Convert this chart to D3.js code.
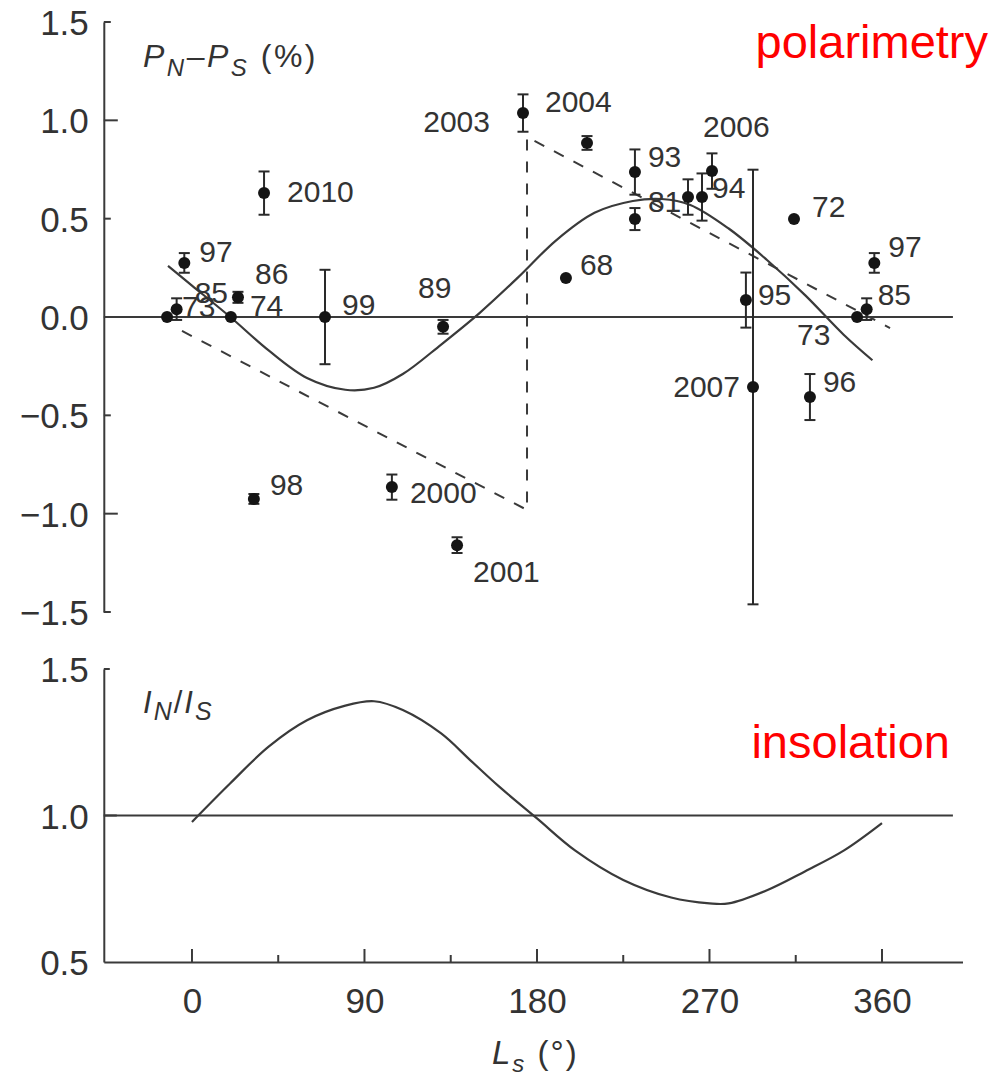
<!DOCTYPE html>
<html>
<head>
<meta charset="utf-8">
<script src="https://cdn.jsdelivr.net/npm/d3@7"></script>
<style>
  html, body { margin: 0; padding: 0; background: #fff; }
  svg { display: block; }
  text { font-family: "Liberation Sans", Arial, Helvetica, sans-serif; }
</style>
</head>
<body>
<svg id="chart" width="992" height="1077"></svg>
<script>
// ---- Polarimetry: hemispheric difference PN−PS (%) per apparition ----
const obsLabel = ["73", "85", "97", "86", "74", "2010", "98", "99", "2000", "89", "2001",
                  "2003", "2004", "68", "93", "81", "", "94", "2006", "95", "2007", "72", "96"];
const obsLs    = [347, 352, 356, 24, 20.3, 37.6, 32.3, 69.4, 104.3, 131, 138.3,
                  172.7, 206.1, 195.1, 231.1, 231.1, 258.8, 266.1, 271.3, 289, 292.7, 314.1, 322.4];
const obsValue = [0, 0.04, 0.275, 0.10, 0, 0.63, -0.925, 0, -0.865, -0.05, -1.16,
                  1.037, 0.885, 0.198, 0.737, 0.498, 0.61, 0.61, 0.742, 0.086, -0.356, 0.498, -0.407];
const obsError = [0, 0.055, 0.05, 0.028, 0, 0.11, 0.025, 0.24, 0.064, 0.035, 0.04,
                  0.095, 0.035, 0, 0.115, 0.056, 0.09, 0.12, 0.09, 0.14, 1.105, 0, 0.117];
// seasons late in the year are repeated one cycle earlier (Ls − 360)
const wrapFrom = 340;

// smooth fit through the polarimetry data
const fitLs    = [-12.5, 0, 20, 40, 60, 80, 95, 110, 130, 150, 170, 190, 210, 230, 245, 260, 280, 300, 320, 340, 355];
const fitValue = [0.26, 0.16, 0.0, -0.17, -0.31, -0.37, -0.36, -0.29, -0.14, 0.02, 0.2, 0.39, 0.53, 0.59, 0.6, 0.57, 0.45, 0.29, 0.11, -0.09, -0.22];

// dashed saw-tooth model
const sawLs    = [-5.2, 174.8, 174.8, 364.2];
const sawValue = [-0.071, -0.981, 0.915, -0.056];

// ---- Insolation ratio IN/IS ----
const insolLs    = [0, 20, 40, 60, 80, 95, 110, 130, 145, 160, 180, 200, 225, 250, 270, 280, 300, 320, 340, 360];
const insolValue = [0.978, 1.11, 1.235, 1.325, 1.375, 1.39, 1.36, 1.28, 1.19, 1.1, 0.99, 0.88, 0.78, 0.72, 0.70, 0.70, 0.745, 0.81, 0.88, 0.974];

// ---- Axes ----
const lsDomain      = [-46, 402];
const lsMajorTicks  = [0, 90, 180, 270, 360];
const lsMinorTicks  = [45, 135, 225, 315];
const polTicks      = [-1.5, -1, -0.5, 0, 0.5, 1, 1.5];
const insolTicks    = [0.5, 1.0, 1.5];
const refLineEnd    = 397;

// label placement around each marker: [dx, dy, anchor]; "w" = repeated copy
const labelPlace = {
  "73": [-60, 28], "73w": [15, 0], "85": [11, -4], "85w": [18, -6],
  "97": [14, -6], "97w": [15, -1], "86": [17, -13], "74": [19, -1],
  "2010": [23, 9], "98": [16, -4], "99": [17, -2], "2000": [18, 16],
  "89": [-25, -29], "2001": [16, 37], "2003": [-33, 19, "end"], "2004": [-42, -31],
  "68": [14, -3], "93": [13, -5], "81": [13, -7], "94": [10, 1],
  "2006": [-9, -34], "95": [12, 5], "2007": [-13, 10, "end"], "72": [18, -2], "96": [13, -5]
};

const ink = "#3a3a3a";
const textInk = "#333";
const svg = d3.select("#chart");

const x = d3.scaleLinear().domain(lsDomain).range([103.8, 962.5]);
const yP = d3.scaleLinear().domain([-1.5, 1.5]).range([612, 22]);
const yI = d3.scaleLinear().domain([0.5, 1.5]).range([962, 669]);
const fmt = d3.format(".1f");

// ===== Upper panel: polarimetry =====
const gPol = svg.append("g");
const axP = d3.axisLeft(yP).tickValues(polTicks).tickFormat(fmt).tickSizeInner(0).tickSizeOuter(0).tickPadding(15);
const gP = gPol.append("g").attr("transform", `translate(${x(lsDomain[0])},0)`).call(axP);
gP.select(".domain").attr("stroke", ink).attr("stroke-width", 2);
gP.selectAll(".tick text").attr("font-size", 35).attr("fill", textInk).attr("dy", "0.36em");
gP.selectAll(".tick line").remove();
gPol.append("g").selectAll("line").data(polTicks.filter(d => d !== 0)).join("line")
  .attr("x1", x(lsDomain[0])).attr("x2", d => x(lsDomain[0]) + (Number.isInteger(d) ? 14 : 7))
  .attr("y1", d => yP(d)).attr("y2", d => yP(d))
  .attr("stroke", ink).attr("stroke-width", 2);

// zero reference
gPol.append("line")
  .attr("x1", x(lsDomain[0])).attr("x2", x(refLineEnd))
  .attr("y1", yP(0)).attr("y2", yP(0))
  .attr("stroke", ink).attr("stroke-width", 2);

// saw-tooth model
const sawPts = sawLs.map((d, i) => [d, sawValue[i]]);
gPol.append("path")
  .attr("d", d3.line().x(d => x(d[0])).y(d => yP(d[1]))(sawPts))
  .attr("fill", "none").attr("stroke", ink).attr("stroke-width", 2)
  .attr("stroke-dasharray", "11,11");

// fit curve
const fitPts = fitLs.map((d, i) => [d, fitValue[i]]);
gPol.append("path")
  .attr("d", d3.line().curve(d3.curveCatmullRom.alpha(0.5)).x(d => x(d[0])).y(d => yP(d[1]))(fitPts))
  .attr("fill", "none").attr("stroke", ink).attr("stroke-width", 2.2);

// observations (with repeated copies one cycle earlier)
const obs = [];
obsLabel.forEach((lab, i) => {
  obs.push({ label: lab, key: lab, ls: obsLs[i], v: obsValue[i], e: obsError[i] });
  if (obsLs[i] > wrapFrom) obs.push({ label: lab, key: lab + "w", ls: obsLs[i] - 360, v: obsValue[i], e: obsError[i] });
});

const bars = gPol.append("g").attr("stroke", "#2a2a2a").attr("stroke-width", 2);
obs.filter(d => d.e > 0).forEach(d => {
  const cx = x(d.ls), y1 = yP(d.v + d.e), y2 = yP(d.v - d.e);
  bars.append("line").attr("x1", cx).attr("x2", cx).attr("y1", y1).attr("y2", y2);
  bars.append("line").attr("x1", cx - 5.5).attr("x2", cx + 5.5).attr("y1", y1).attr("y2", y1);
  bars.append("line").attr("x1", cx - 5.5).attr("x2", cx + 5.5).attr("y1", y2).attr("y2", y2);
});

gPol.append("g").selectAll("circle").data(obs).join("circle")
  .attr("cx", d => x(d.ls)).attr("cy", d => yP(d.v)).attr("r", 6)
  .attr("fill", "#151515");

gPol.append("g").selectAll("text").data(obs.filter(d => d.label !== "")).join("text")
  .attr("x", d => x(d.ls) + labelPlace[d.key][0])
  .attr("y", d => yP(d.v) + labelPlace[d.key][1])
  .attr("text-anchor", d => labelPlace[d.key][2] || "start")
  .attr("font-size", 30).attr("fill", textInk)
  .text(d => d.label);

// panel title
const tP = gPol.append("text").attr("x", 143).attr("y", 67).attr("font-size", 32)
  .attr("letter-spacing", 2.5).attr("fill", textInk);
tP.append("tspan").attr("font-style", "italic").text("P");
tP.append("tspan").attr("font-style", "italic").attr("font-size", 24).attr("dy", 9).text("N");
tP.append("tspan").attr("dy", -9).text("–");
tP.append("tspan").attr("font-style", "italic").text("P");
tP.append("tspan").attr("font-style", "italic").attr("font-size", 24).attr("dy", 9).text("S");
tP.append("tspan").attr("dy", -9).text(" (%)");

gPol.append("text").attr("x", 988).attr("y", 58).attr("text-anchor", "end")
  .attr("font-size", 47).attr("fill", "#ff0000").text("polarimetry");

// ===== Lower panel: insolation =====
const gIns = svg.append("g");
const axI = d3.axisLeft(yI).tickValues(insolTicks).tickFormat(fmt).tickSizeInner(0).tickSizeOuter(0).tickPadding(15);
const gI = gIns.append("g").attr("transform", `translate(${x(lsDomain[0])},0)`).call(axI);
gI.select(".domain").attr("stroke", ink).attr("stroke-width", 2);
gI.selectAll(".tick text").attr("font-size", 35).attr("fill", textInk).attr("dy", "0.36em");
gI.selectAll(".tick line").remove();
gIns.append("g").selectAll("line").data([1.0, 1.5]).join("line")
  .attr("x1", x(lsDomain[0])).attr("x2", d => x(lsDomain[0]) + (d === 1.0 ? 13 : 6))
  .attr("y1", d => yI(d)).attr("y2", d => yI(d))
  .attr("stroke", ink).attr("stroke-width", 2);

// x axis with upward ticks
const axX = d3.axisBottom(x).tickValues(lsMajorTicks).tickFormat(d3.format("d")).tickSizeInner(0).tickSizeOuter(0).tickPadding(26);
const gX = gIns.append("g").attr("transform", `translate(0,${yI(0.5)})`).call(axX);
gX.select(".domain").attr("stroke", ink).attr("stroke-width", 2);
gX.selectAll(".tick line").remove();
gX.selectAll(".tick text").attr("font-size", 35).attr("fill", textInk).attr("dy", "0.71em");
gIns.append("g").selectAll("line").data(lsMajorTicks.concat(lsMinorTicks)).join("line")
  .attr("x1", d => x(d)).attr("x2", d => x(d))
  .attr("y1", yI(0.5)).attr("y2", d => yI(0.5) - (lsMajorTicks.includes(d) ? 13 : 7))
  .attr("stroke", ink).attr("stroke-width", 2);

// unity reference
gIns.append("line")
  .attr("x1", x(lsDomain[0])).attr("x2", x(refLineEnd))
  .attr("y1", yI(1)).attr("y2", yI(1))
  .attr("stroke", ink).attr("stroke-width", 2);

const insolPts = insolLs.map((d, i) => [d, insolValue[i]]);
gIns.append("path")
  .attr("d", d3.line().curve(d3.curveCatmullRom.alpha(0.5)).x(d => x(d[0])).y(d => yI(d[1]))(insolPts))
  .attr("fill", "none").attr("stroke", ink).attr("stroke-width", 2.2);

const tI = gIns.append("text").attr("x", 143).attr("y", 713).attr("font-size", 31)
  .attr("letter-spacing", 2).attr("fill", textInk);
tI.append("tspan").attr("font-style", "italic").text("I");
tI.append("tspan").attr("font-style", "italic").attr("font-size", 25).attr("dy", 7).text("N");
tI.append("tspan").attr("dy", -7).text("/");
tI.append("tspan").attr("font-style", "italic").text("I");
tI.append("tspan").attr("font-style", "italic").attr("font-size", 25).attr("dy", 7).text("S");

gIns.append("text").attr("x", 950).attr("y", 758).attr("text-anchor", "end")
  .attr("font-size", 47).attr("fill", "#ff0000").text("insolation");

// x axis title
const tX = gIns.append("text").attr("x", 492).attr("y", 1064).attr("font-size", 33)
  .attr("letter-spacing", 2).attr("fill", textInk);
tX.append("tspan").attr("font-style", "italic").text("L");
tX.append("tspan").attr("font-style", "italic").attr("font-size", 24).attr("dy", 8).text("s");
tX.append("tspan").attr("dy", -8).text(" (°)");
</script>
</body>
</html>
